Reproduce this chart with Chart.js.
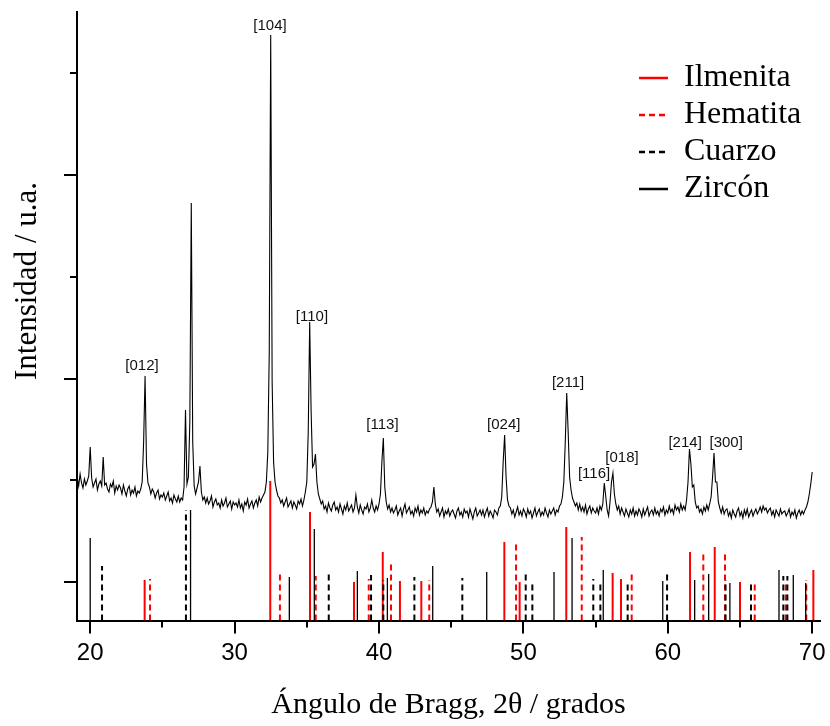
<!DOCTYPE html>
<html>
<head>
<meta charset="utf-8">
<script src="https://cdn.jsdelivr.net/npm/chart.js@4.4.1/dist/chart.umd.min.js"></script>
<style>
html,body{margin:0;padding:0;background:#fff;}
#wrap{width:830px;height:726px;}
</style>
</head>
<body>
<div id="wrap"><canvas id="c" width="830" height="726"></canvas></div>
<script>
// ---------- DATA ----------
// Measured diffractogram: angle grid start/step (2θ, degrees) and intensities (u.a.)
const ANGLE_START = 19.1;
const ANGLE_STEP = 0.1;
const INTENSITY = [
  105, 96, 108, 99, 94, 103, 97, 101, 106, 135,
  104, 95, 99, 103, 92, 98, 101, 96, 125, 97,
  99, 93, 90, 98, 95, 101, 89, 96, 92, 97,
  94, 88, 97, 91, 86, 93, 96, 87, 92, 89,
  95, 86, 91, 89, 93, 100, 140, 206, 118, 99,
  95, 88, 93, 90, 84, 89, 92, 83, 87, 85,
  89, 82, 86, 90, 81, 84, 79, 87, 83, 80,
  86, 80, 84, 82, 95, 172, 98, 105, 160, 379,
  140, 96, 88, 94, 100, 116, 90, 82, 85, 79,
  84, 78, 81, 86, 75, 80, 83, 77, 79, 74,
  82, 76, 79, 84, 75, 78, 81, 73, 80, 77,
  79, 75, 82, 74, 78, 71, 80, 77, 83, 74,
  78, 81, 74, 79, 82, 76, 85, 80, 84, 87,
  90, 100, 130, 230, 547, 200, 120, 100, 92, 86,
  84, 79, 82, 76, 80, 84, 75, 78, 81, 74,
  80, 77, 73, 81, 78, 83, 76, 82, 90, 100,
  150, 260, 170, 115, 118, 128, 100, 88, 83, 78,
  81, 73, 76, 70, 79, 74, 71, 77, 80, 72,
  75, 70, 78, 73, 68, 76, 72, 79, 71, 74,
  77, 70, 74, 87, 75, 69, 77, 72, 68, 75,
  73, 78, 70, 74, 82, 74, 70, 76, 72, 78,
  88, 120, 144, 95, 80, 73, 77, 70, 74, 69,
  72, 76, 67, 71, 74, 66, 73, 78, 69, 72,
  75, 68, 71, 66, 74, 70, 76, 67, 72, 69,
  74, 67, 71, 69, 73, 75, 80, 95, 78, 70,
  73, 66, 70, 74, 65, 71, 68, 73, 66, 70,
  72, 68, 64, 71, 74, 67, 70, 65, 73, 69,
  71, 65, 73, 68, 63, 70, 74, 66, 69, 72,
  67, 72, 65, 70, 74, 66, 71, 68, 64, 72,
  70, 67, 74, 76, 85, 120, 147, 105, 82, 76,
  74, 68, 72, 65, 70, 75, 67, 71, 66, 73,
  70, 65, 73, 68, 71, 64, 69, 74, 66, 70,
  73, 66, 70, 67, 74, 69, 65, 72, 68, 71,
  74, 67, 72, 70, 76, 78, 85, 100, 140, 189,
  150, 105, 92, 84, 80, 76, 79, 72, 78, 71,
  75, 70, 77, 68, 73, 76, 69, 74, 71, 69,
  74, 68, 76, 72, 78, 99, 86, 72, 66, 80,
  100, 109, 88, 78, 72, 76, 68, 74, 70, 66,
  73, 69, 65, 72, 68, 74, 66, 71, 67, 73,
  70, 65, 73, 67, 71, 75, 66, 70, 72, 67,
  74, 68, 71, 66, 73, 70, 75, 67, 72, 69,
  76, 70, 73, 68, 77, 72, 75, 70, 78, 72,
  76, 72, 82, 100, 133, 118, 95, 97, 80, 74,
  76, 70, 73, 68, 75, 71, 77, 72, 78, 85,
  105, 129, 100, 100, 80, 74, 69, 75, 68, 72,
  73, 66, 70, 64, 72, 68, 65, 71, 74, 66,
  70, 64, 72, 67, 73, 65, 69, 72, 66, 70,
  73, 68, 71, 75, 70, 76, 72, 74, 69, 72,
  74, 67, 71, 65, 72, 69, 66, 73, 68, 70,
  71, 66, 69, 73, 65, 70, 67, 72, 64, 69,
  72, 67, 71, 68, 72, 75, 80, 88, 98, 110
];

// Reference patterns (stick lines): 2θ positions and top intensity (u.a.)
const ILMENITA_ANGLES = [23.77, 32.47, 35.22, 38.27, 40.26, 41.45, 42.93, 48.68, 49.74, 52.97, 56.18, 56.76, 61.54, 63.25, 65.0, 70.08];
const ILMENITA_TOPS   = [2, 101, 70, 0, 30, 1, 1, 40, 0, 55, 9, 3, 30, 35, 0, 12];

const HEMATITA_ANGLES = [24.14, 33.14, 35.62, 39.29, 40.83, 43.48, 49.49, 54.04, 57.5, 62.46, 63.96, 66.02, 68.17, 69.59];
const HEMATITA_TOPS   = [3, 9, 6, 3, 19, 2, 40, 45, 9, 30, 30, 0, -1, 2];

const CUARZO_ANGLES = [20.82, 26.63, 36.52, 39.45, 40.3, 42.45, 45.77, 50.16, 50.62, 54.84, 55.33, 57.22, 59.95, 64.0, 65.76, 68.0, 68.28];
const CUARZO_TOPS   = [16, 72, 8, 7, 2, 5, 4, 11, 0, 3, 0, 0, 8, 2, 0, 6, 6];

const ZIRCON_ANGLES = [20.0, 26.95, 33.79, 35.52, 38.5, 40.58, 43.72, 47.46, 52.12, 53.37, 55.53, 59.65, 61.86, 62.83, 64.3, 67.7, 68.69, 69.55];
const ZIRCON_TOPS   = [44, 72, 5, 53, 11, 4, 16, 10, 10, 44, 12, 1, 2, 8, -1, 12, 7, -1];

// Series names
const SERIES_NAMES = ['Ilmenita', 'Hematita', 'Cuarzo', 'Zircón'];

// Peak annotations (Miller indices) anchored in data coordinates
const PEAK_LABELS = ['[012]', '[104]', '[110]', '[113]', '[024]', '[211]', '[116]', '[018]', '[214]', '[300]'];
const PEAK_LABEL_ANGLES = [23.59, 32.45, 35.36, 40.24, 48.64, 53.09, 54.89, 56.83, 61.2, 64.04];
const PEAK_LABEL_INTENSITY = [216, 556, 265, 157, 157, 199, 108, 124, 139, 139];

// Axis ticks and titles
const X_TICKS = [20, 25, 30, 35, 40, 45, 50, 55, 60, 65, 70];
const X_TICK_LABELS = ['20', '', '30', '', '40', '', '50', '', '60', '', '70'];
const Y_TICKS = [0, 101.7, 203.4, 305.1, 406.8, 508.5];
const X_TITLE = 'Ángulo de Bragg, 2θ / grados';
const Y_TITLE = 'Intensidad / u.a.';

// Axis ranges
const X_MIN = 19.086, X_MAX = 70.54;
const Y_MIN = -38.5, Y_MAX = 570;

// ---------- BUILD ----------
const patternPoints = INTENSITY.map((v, i) => ({ x: +(ANGLE_START + i * ANGLE_STEP).toFixed(2), y: v }));

function stickPoints(angles, tops) {
  const pts = [];
  angles.forEach((a, i) => {
    pts.push({ x: a, y: Y_MIN }, { x: a, y: tops[i] }, { x: a, y: null });
  });
  return pts;
}

const serif = '"Liberation Serif", "Times New Roman", serif';
const sans = '"Liberation Sans", Arial, sans-serif';

const axisTicksPlugin = {
  id: 'axisTicks',
  afterDraw(chart) {
    const ctx = chart.ctx;
    const xs = chart.scales.x, ys = chart.scales.y;
    ctx.save();
    ctx.strokeStyle = '#000';
    ctx.lineWidth = 2;
    ctx.beginPath();
    xs.ticks.forEach((t) => {
      const px = Math.round(xs.getPixelForValue(t.value));
      const len = (t.value % 10 === 0) ? 13 : 7;
      ctx.moveTo(px, xs.top);
      ctx.lineTo(px, xs.top + len);
    });
    ys.ticks.forEach((t, i) => {
      const py = Math.round(ys.getPixelForValue(t.value));
      const len = (i % 2 === 0) ? 13 : 7;
      ctx.moveTo(ys.right - len, py);
      ctx.lineTo(ys.right, py);
    });
    ctx.stroke();
    ctx.restore();
  }
};

// Y-axis title (placed like the original figure: slightly above the axis centre)
const Y_TITLE_X = 28;
const Y_TITLE_Y = 281;
const yTitlePlugin = {
  id: 'yTitle',
  afterDraw(chart) {
    const ctx = chart.ctx;
    ctx.save();
    ctx.translate(Y_TITLE_X, Y_TITLE_Y);
    ctx.rotate(-Math.PI / 2);
    ctx.font = '31px ' + serif;
    ctx.fillStyle = '#000';
    ctx.textAlign = 'center';
    ctx.textBaseline = 'middle';
    ctx.fillText(Y_TITLE, 0, 0);
    ctx.restore();
  }
};

const peakLabelPlugin = {
  id: 'peakLabels',
  afterDatasetsDraw(chart) {
    const ctx = chart.ctx;
    const xs = chart.scales.x, ys = chart.scales.y;
    ctx.save();
    ctx.font = '15px ' + sans;
    ctx.fillStyle = '#111';
    ctx.textAlign = 'center';
    ctx.textBaseline = 'middle';
    PEAK_LABELS.forEach((txt, i) => {
      ctx.fillText(txt, xs.getPixelForValue(PEAK_LABEL_ANGLES[i]), ys.getPixelForValue(PEAK_LABEL_INTENSITY[i]));
    });
    ctx.restore();
  }
};

const LEGEND_LEFT = 639;
const LEGEND_FIRST_ROW = 78;
const legendPlacePlugin = {
  id: 'legendPlace',
  afterLayout(chart) {
    const lg = chart.legend;
    if (!lg) return;
    const pad = lg.options.labels.padding;
    const fs = lg.options.labels.font.size;
    lg.left = LEGEND_LEFT - pad;
    lg.top = LEGEND_FIRST_ROW - pad - fs / 2;
    lg.right = chart.chartArea.right + 5;
  }
};

const STICK_STYLES = [
  { color: '#ff0000', dash: [], width: 2 },
  { color: '#ff0000', dash: [6, 4], width: 2 },
  { color: '#000000', dash: [6, 4], width: 2 },
  { color: '#000000', dash: [], width: 1.3 }
];
const STICK_SETS = [
  [ILMENITA_ANGLES, ILMENITA_TOPS],
  [HEMATITA_ANGLES, HEMATITA_TOPS],
  [CUARZO_ANGLES, CUARZO_TOPS],
  [ZIRCON_ANGLES, ZIRCON_TOPS]
];

const datasets = STICK_SETS.map((s, i) => ({
  label: SERIES_NAMES[i],
  data: stickPoints(s[0], s[1]),
  borderColor: STICK_STYLES[i].color,
  backgroundColor: STICK_STYLES[i].color,
  borderDash: STICK_STYLES[i].dash,
  borderWidth: STICK_STYLES[i].width,
  pointRadius: 0,
  spanGaps: false,
  order: 1 + (3 - i)
}));
datasets.push({
  label: '',
  data: patternPoints,
  borderColor: '#000',
  borderWidth: 1.1,
  pointRadius: 0,
  tension: 0,
  order: 0
});

new Chart(document.getElementById('c'), {
  type: 'line',
  data: { datasets },
  plugins: [axisTicksPlugin, peakLabelPlugin, legendPlacePlugin, yTitlePlugin],
  options: {
    responsive: false,
    devicePixelRatio: 1,
    animation: false,
    events: [],
    layout: { padding: { top: 12, right: 10, left: 0, bottom: 0 }, autoPadding: false },
    plugins: {
      tooltip: { enabled: false },
      legend: {
        position: 'chartArea',
        align: 'start',
        labels: {
          usePointStyle: true,
          pointStyleWidth: 29,
          padding: 5,
          color: '#000',
          font: { family: serif, size: 32 },
          generateLabels: (chart) => chart.data.datasets
            .map((ds, i) => ({
              text: ds.label,
              fillStyle: ds.borderColor,
              strokeStyle: ds.borderColor,
              lineWidth: 2.5,
              lineDash: ds.borderDash || [],
              pointStyle: 'line',
              hidden: false,
              fontColor: '#000',
              datasetIndex: i
            }))
            .filter((it) => it.text)
        }
      }
    },
    scales: {
      x: {
        type: 'linear',
        min: X_MIN,
        max: X_MAX,
        afterBuildTicks: (scale) => { scale.ticks = X_TICKS.map((v) => ({ value: v })); },
        afterFit: (scale) => { scale.height = 105.5; scale.paddingLeft = 0; scale.paddingRight = 0; },
        grid: { display: false, drawTicks: false },
        border: { display: true, color: '#000', width: 2 },
        ticks: {
          autoSkip: false,
          maxRotation: 0,
          padding: 18,
          color: '#000',
          font: { family: sans, size: 24 },
          callback: (v) => { const k = X_TICKS.indexOf(v); return k >= 0 ? X_TICK_LABELS[k] : ''; }
        },
        title: {
          display: true,
          text: X_TITLE,
          color: '#000',
          font: { family: serif, size: 30 },
          padding: { top: 0, bottom: 3 }
        }
      },
      y: {
        type: 'linear',
        min: Y_MIN,
        max: Y_MAX,
        afterBuildTicks: (scale) => { scale.ticks = Y_TICKS.map((v) => ({ value: v })); },
        afterFit: (scale) => { scale.width = 77; scale.paddingTop = 0; scale.paddingBottom = 0; },
        grid: { display: false, drawTicks: false },
        border: { display: true, color: '#000', width: 2 },
        ticks: { display: false },
        title: { display: false, text: Y_TITLE }
      }
    }
  }
});
</script>
</body>
</html>
